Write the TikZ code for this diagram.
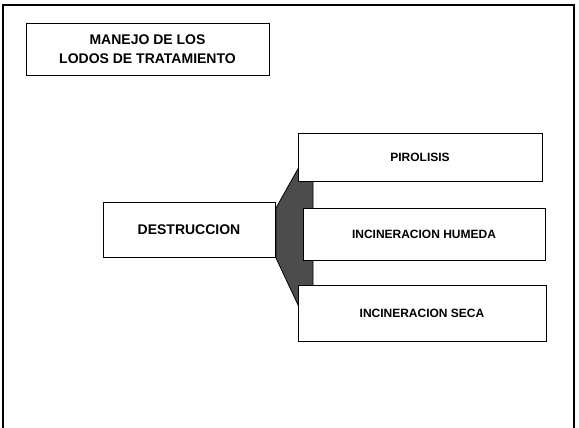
\documentclass[tikz,border=0pt]{standalone}
\usepackage{fontspec}
\setmainfont{Liberation Sans}
\begin{document}
\begin{tikzpicture}[x=1pt,y=-1pt,
  frameline/.style={line width=1.6pt, draw=black},
  box/.style={draw=black, line width=0.8pt, fill=white, rectangle, inner sep=0pt, align=center},
  bigtext/.style={font=\fontsize{14}{19}\selectfont\bfseries},
  smalltext/.style={font=\fontsize{12}{14}\selectfont\bfseries},
  wedge/.style={draw=black, line width=0.8pt, fill=black!70}
]
\useasboundingbox (0,0) rectangle (579,428);
% outer frame (open at bottom)
\draw[frameline] (3,428) -- (3,5) -- (574,5) -- (574,428);
% shaded connector shape
\draw[wedge] (299,150) -- (313,150) -- (313,320) -- (299,320) -- (299,307)
  -- (276,258) -- (276,208) -- (299,167) -- cycle;
% boxes
\node[box, bigtext, minimum width=243, minimum height=52] (title) at (147.5,49)
  {MANEJO DE LOS\\LODOS DE TRATAMIENTO};
\node[box, bigtext, minimum width=172, minimum height=55] (destr) at (189,229.5)
  {DESTRUCCION};
\node[box, smalltext, minimum width=244, minimum height=48] (piro) at (420,157.5)
  {PIROLISIS};
\node[box, smalltext, minimum width=242, minimum height=52] (hum) at (424,234)
  {INCINERACION HUMEDA};
\node[box, smalltext, minimum width=248, minimum height=56] (seca) at (422,313)
  {INCINERACION SECA};
\end{tikzpicture}
\end{document}
